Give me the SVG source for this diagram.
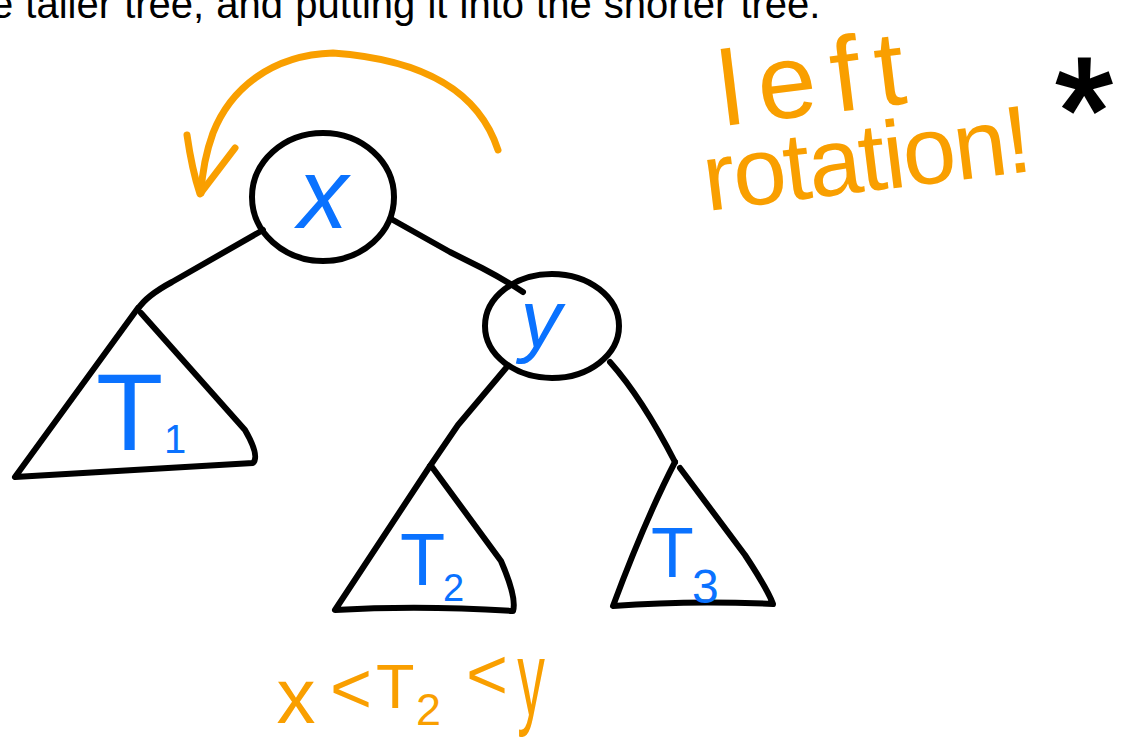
<svg xmlns="http://www.w3.org/2000/svg" width="1125" height="753" viewBox="0 0 1125 753">
<style>
.ink{fill:none;stroke:#000;stroke-width:6;stroke-linecap:round;stroke-linejoin:round}
.or{fill:none;stroke:#F99F00;stroke-width:7;stroke-linecap:round;stroke-linejoin:round}
.blue{fill:#0A72FF;font-family:"Liberation Sans",Arial,sans-serif}
.hand{fill:#F99F00;font-family:"Liberation Sans",Arial,sans-serif}
.body{fill:#000;font-family:"Liberation Sans",Arial,sans-serif;font-size:40px}
</style>
<rect width="1125" height="753" fill="#fff"/>
<text class="body" x="-9" y="18" word-spacing="1">e taller tree, and putting it into the shorter tree.</text>

<g id="rotation-arrow">
<path class="or" d="M498,150 C480,95 430,60 333,53 C270,55 230,90 213,133 C205,155 202,175 201,193"/>
<path class="or" d="M187,135 Q192,170 200,194 L235,148"/>
</g>

<g id="connectors">
<path class="ink" d="M263,230 L172,282 Q146,296 138,309"/>
<path class="ink" d="M393,220 L450,252 L482,268 Q505,280 523,292"/>
<path class="ink" d="M506,368 L458,425 L430,466"/>
<path class="ink" d="M610,362 Q642,398 675,462"/>
</g>

<g id="node-x">
<ellipse class="ink" cx="323" cy="197" rx="71" ry="64"/>
<text class="blue" x="323" y="228" font-size="100" font-style="italic" text-anchor="middle">x</text>
</g>

<g id="node-y">
<ellipse class="ink" cx="552" cy="326" rx="67" ry="52"/>
<text class="blue" x="541" y="347" font-size="82" font-style="italic" text-anchor="middle">y</text>
</g>

<g id="tree-T1">
<path class="ink" d="M138,308 L15,477 Q135,470 253,463 Q260,456 245,430 L141,313"/>
<text class="blue" font-size="110"><tspan x="96" y="450">T</tspan><tspan x="164" y="453" font-size="40">1</tspan></text>
</g>

<g id="tree-T2">
<path class="ink" d="M430,466 L335,610 Q420,605 513,611 Q517,598 501,561 L432,467"/>
<text class="blue" font-size="74"><tspan x="400" y="585">T</tspan><tspan x="443" y="601" font-size="38">2</tspan></text>
</g>

<g id="tree-T3">
<path class="ink" d="M675,462 Q645,520 613,606 Q690,600 773,604 Q768,590 745,555 L680,468"/>
<text class="blue" font-size="70"><tspan x="651" y="577">T</tspan><tspan x="692" y="603" font-size="48">3</tspan></text>
</g>

<g id="annotations">
<text class="hand" x="723" y="126" font-size="106" textLength="187" lengthAdjust="spacing" transform="rotate(-7 723 126)">left</text>
<text class="hand" x="707" y="211" font-size="96" textLength="330" lengthAdjust="spacing" transform="rotate(-7 707 211)">rotation!</text>
<text x="1055" y="163" font-size="150" font-family="Liberation Sans,Arial,sans-serif" fill="#000" stroke="#000" stroke-width="3">*</text>
<text class="hand"><tspan x="296" y="723" font-size="78" text-anchor="middle">x</tspan><tspan x="351" y="713" font-size="72" text-anchor="middle">&lt;</tspan><tspan x="376" y="708" font-size="63">T</tspan><tspan x="416" y="725" font-size="45">2</tspan><tspan x="487" y="699" font-size="72" text-anchor="middle">&lt;</tspan></text>
<text class="hand" font-size="85" text-anchor="middle" transform="translate(531 715) scale(0.65 1.25)">y</text>
</g>
</svg>
